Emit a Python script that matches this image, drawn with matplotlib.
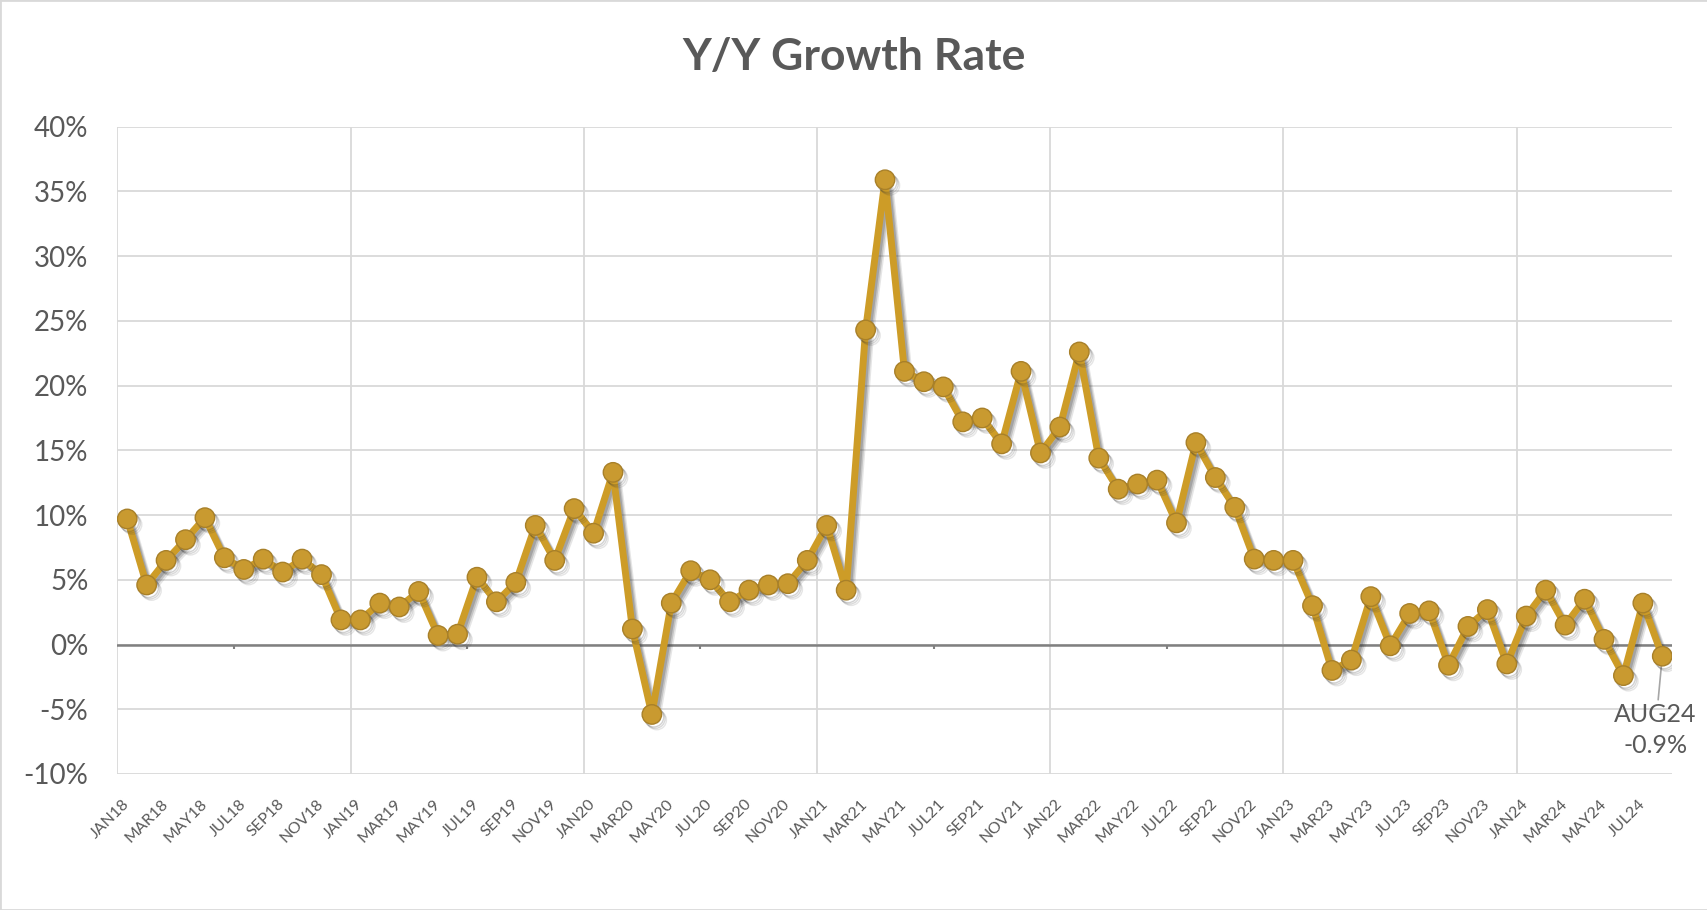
import numpy as np
import matplotlib
matplotlib.use("Agg")
import matplotlib.pyplot as plt
import matplotlib.patheffects as pe
from matplotlib.patches import Rectangle

plt.rcParams['font.family'] = ['Lato', 'DejaVu Sans']

# month labels JAN18 .. AUG24
months = ['JAN', 'FEB', 'MAR', 'APR', 'MAY', 'JUN',
          'JUL', 'AUG', 'SEP', 'OCT', 'NOV', 'DEC']
years = ['18', '19', '20', '21', '22', '23', '24']
labels = [m + y for y in years for m in months][:80]

# y/y growth, percent
growth = [
    9.7, 4.6, 6.5, 8.1, 9.8, 6.7, 5.8, 6.6, 5.6, 6.6, 5.4, 1.9,   # 2018
    1.9, 3.2, 2.9, 4.1, 0.7, 0.8, 5.2, 3.3, 4.8, 9.2, 6.5, 10.5,  # 2019
    8.6, 13.3, 1.2, -5.4, 3.2, 5.7, 5.0, 3.3, 4.2, 4.6, 4.7, 6.5, # 2020
    9.2, 4.2, 24.3, 35.9, 21.1, 20.3, 19.9, 17.2, 17.5, 15.5, 21.1, 14.8,  # 2021
    16.8, 22.6, 14.4, 12.0, 12.4, 12.7, 9.4, 15.6, 12.9, 10.6, 6.6, 6.5,  # 2022
    6.5, 3.0, -2.0, -1.2, 3.7, -0.1, 2.4, 2.6, -1.6, 1.4, 2.7, -1.5,    # 2023
    2.2, 4.2, 1.5, 3.5, 0.4, -2.4, 3.2, -0.9,                          # 2024
]

x = np.arange(len(growth))
y = np.array(growth) / 100.0

grey_txt = '#595959'
gold = '#CD9C27'

fig = plt.figure(figsize=(17.08, 9.10), dpi=100)
ax = fig.add_axes([117.5 / 1708, 1 - 774 / 910, (1672 - 117.5) / 1708, (774 - 126.7) / 910])

ax.set_xlim(-0.5, len(growth) - 0.5)
ax.set_ylim(-0.10, 0.40)

# gridlines
ax.set_yticks(np.arange(-0.10, 0.401, 0.05))
ax.set_yticklabels(['%d%%' % round(v * 100) for v in np.arange(-0.10, 0.401, 0.05)])
ax.yaxis.grid(True, color='#D9D9D9', lw=1.3)
ax.set_xticks(x[::2])
ax.set_xticklabels(labels[::2], rotation=45, ha='right', va='center',
                   rotation_mode='anchor', fontsize=11.5, color=grey_txt)
ax.set_xticks(np.arange(-0.5, len(growth), 12), minor=True)
ax.xaxis.grid(True, which='minor', color='#D9D9D9', lw=1.3)
ax.tick_params(axis='x', which='both', length=0, pad=20)
ax.tick_params(axis='y', length=0, pad=21, labelsize=20, labelcolor=grey_txt)
ax.set_axisbelow(True)
for s in ax.spines.values():
    s.set_visible(False)

# zero axis line with small ticks
ax.axhline(0, color='#808080', lw=1.8, zorder=1)
ax.vlines(np.arange(5.5, len(growth), 12), -0.0035, 0, color='#808080', lw=1.5, zorder=1)

# soft shadow: a couple of offset copies
ax.plot(x, y, color=gold, lw=5, marker='o', markersize=14,
        markerfacecolor='#C99A30', markeredgecolor='#A88029', markeredgewidth=1,
        zorder=3,
        path_effects=[pe.SimpleLineShadow(offset=(3.5, -4), shadow_color='#303030', alpha=0.12),
                      pe.SimpleLineShadow(offset=(2.5, -3), shadow_color='#303030', alpha=0.18),
                      pe.SimpleLineShadow(offset=(1.5, -2), shadow_color='#303030', alpha=0.22),
                      pe.Normal()])

# last point label
ax.annotate('%s\n%.1f%%' % (labels[-1], growth[-1]), xy=(x[-1], y[-1]),
            xytext=(-5, -53), textcoords='offset points',
            ha='center', va='center', fontsize=18, color=grey_txt,
            linespacing=1.45, zorder=2,
            arrowprops=dict(arrowstyle='-', color='#A6A6A6', lw=1.2,
                            shrinkA=0, shrinkB=0))

fig.text(0.5, 1 - 57 / 910, 'Y/Y Growth Rate', ha='center', va='center',
         fontsize=32, fontweight='bold', color=grey_txt)

fig.patches.append(Rectangle((0, 0), 1, 1, transform=fig.transFigure, fill=False,
                             edgecolor='#D9D9D9', lw=2))

fig.savefig('out.png', dpi=100, facecolor='white')
